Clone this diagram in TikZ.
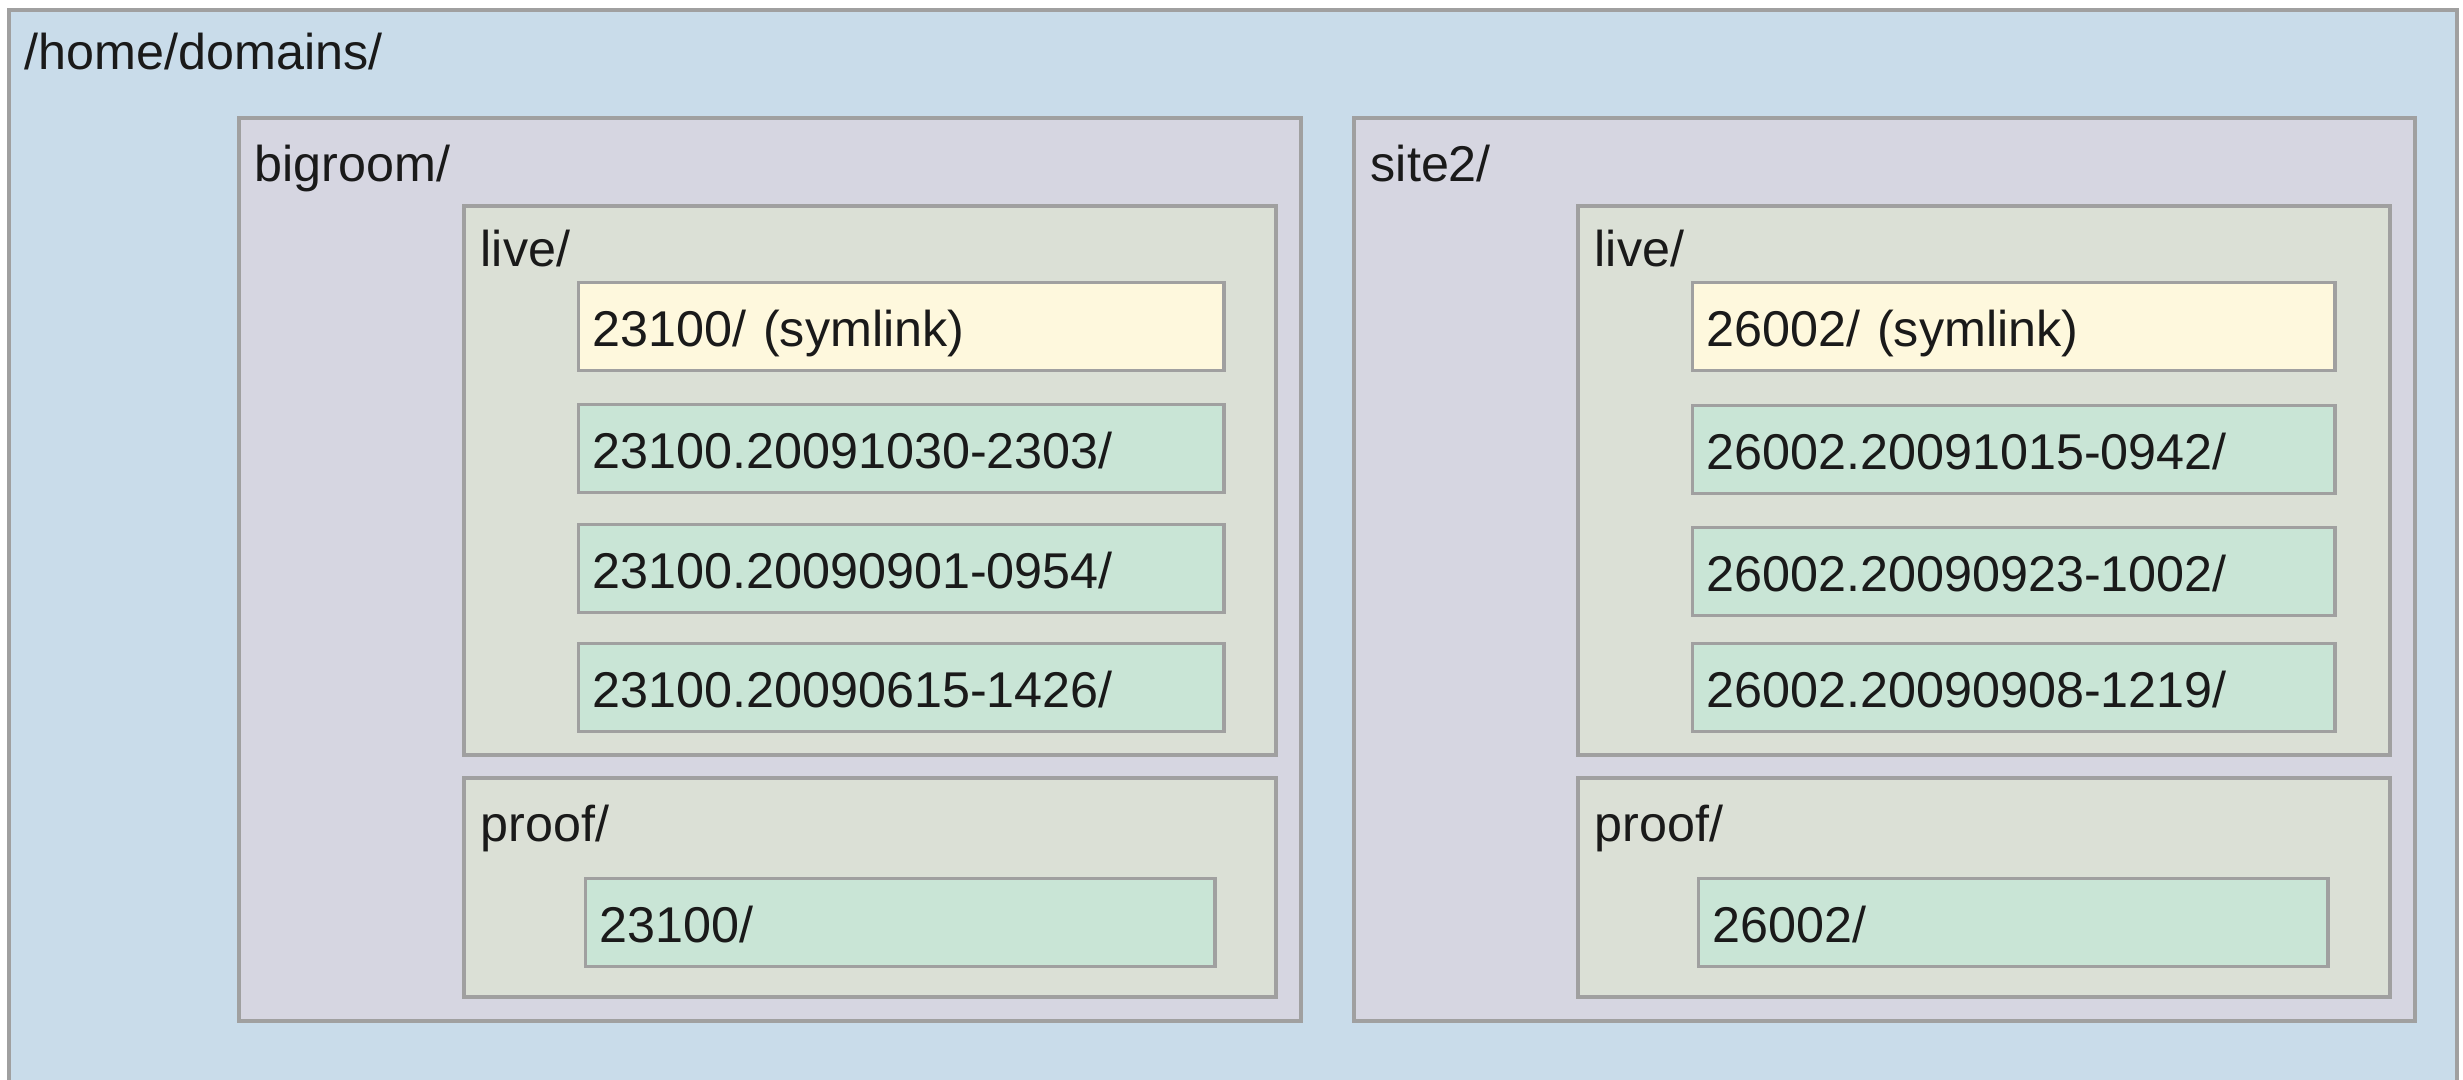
\documentclass[tikz,border=0pt]{standalone}
\usepackage{fontspec}
\setmainfont{Liberation Sans}
\usepackage{xcolor}
\usetikzlibrary{positioning}

\definecolor{homeblue}{HTML}{C9DCEA}
\definecolor{sitegray}{HTML}{D6D6E1}
\definecolor{dirgray}{HTML}{DBE0D6}
\definecolor{linkyellow}{HTML}{FEF8DD}
\definecolor{leafgreen}{HTML}{C9E5D6}
\definecolor{edgegray}{HTML}{A0A0A0}
\definecolor{inkblack}{HTML}{1A1A1A}

\tikzset{
  box/.style={draw=edgegray, line width=0.9pt},
  lbl/.style={anchor=base west, inner sep=0pt, text=inkblack},
  leaf/.style={box, fill=leafgreen, anchor=north west, text=inkblack,
    text width=6.17cm, inner xsep=0.14cm, inner ysep=0pt,
    minimum height=0.88cm, text height=0.4cm, text depth=0cm, align=left},
  link/.style={leaf, fill=linkyellow}
}

\begin{document}
\begin{tikzpicture}[x=0.01cm, y=-0.01cm, font=\fontsize{14.3}{17}\selectfont]
                \clip (0,0) rectangle (2463,1080);

                % Domains folder
                \draw[box, fill=homeblue] (9,10) rectangle (2457,1110);
                \node[lbl] (home) at (24,70) {/home/domains/};

                % bigroom
                \draw[box, fill=sitegray] (239,118) rectangle (1301,1021);
                \node[lbl] (bigroom) at (254,182) {bigroom/};

                \draw[box, fill=dirgray] (464,206) rectangle (1276,755);
                \node[lbl] (blive) at (480,267) {live/};
                \node[link] (blink) at (577,281) {23100/ (symlink)};
                \node[leaf] (bv1) at (577,403) {23100.20091030-2303/};
                \node[leaf] (bv2) at (577,523) {23100.20090901-0954/};
                \node[leaf] (bv3) at (577,642) {23100.20090615-1426/};

                \draw[box, fill=dirgray] (464,778) rectangle (1276,997);
                \node[lbl] (bproof) at (480,842) {proof/};
                \node[leaf, text width=6.01cm] (bp) at (584,877) {23100/};

                % site2
                \draw[box, fill=sitegray] (1354,118) rectangle (2415,1021);
                \node[lbl] (site) at (1370,182) {site2/};

                \draw[box, fill=dirgray] (1578,206) rectangle (2390,755);
                \node[lbl] (slive) at (1594,267) {live/};
                \node[link, text width=6.14cm] (slink) at (1691,281) {26002/ (symlink)};
                \node[leaf, text width=6.14cm] (sv1) at (1691,404) {26002.20091015-0942/};
                \node[leaf, text width=6.14cm] (sv2) at (1691,526) {26002.20090923-1002/};
                \node[leaf, text width=6.14cm] (sv3) at (1691,642) {26002.20090908-1219/};

                \draw[box, fill=dirgray] (1578,778) rectangle (2390,997);
                \node[lbl] (sproof) at (1594,842) {proof/};
                \node[leaf, text width=6.01cm] (sp) at (1697,877) {26002/};
\end{tikzpicture}
\end{document}
